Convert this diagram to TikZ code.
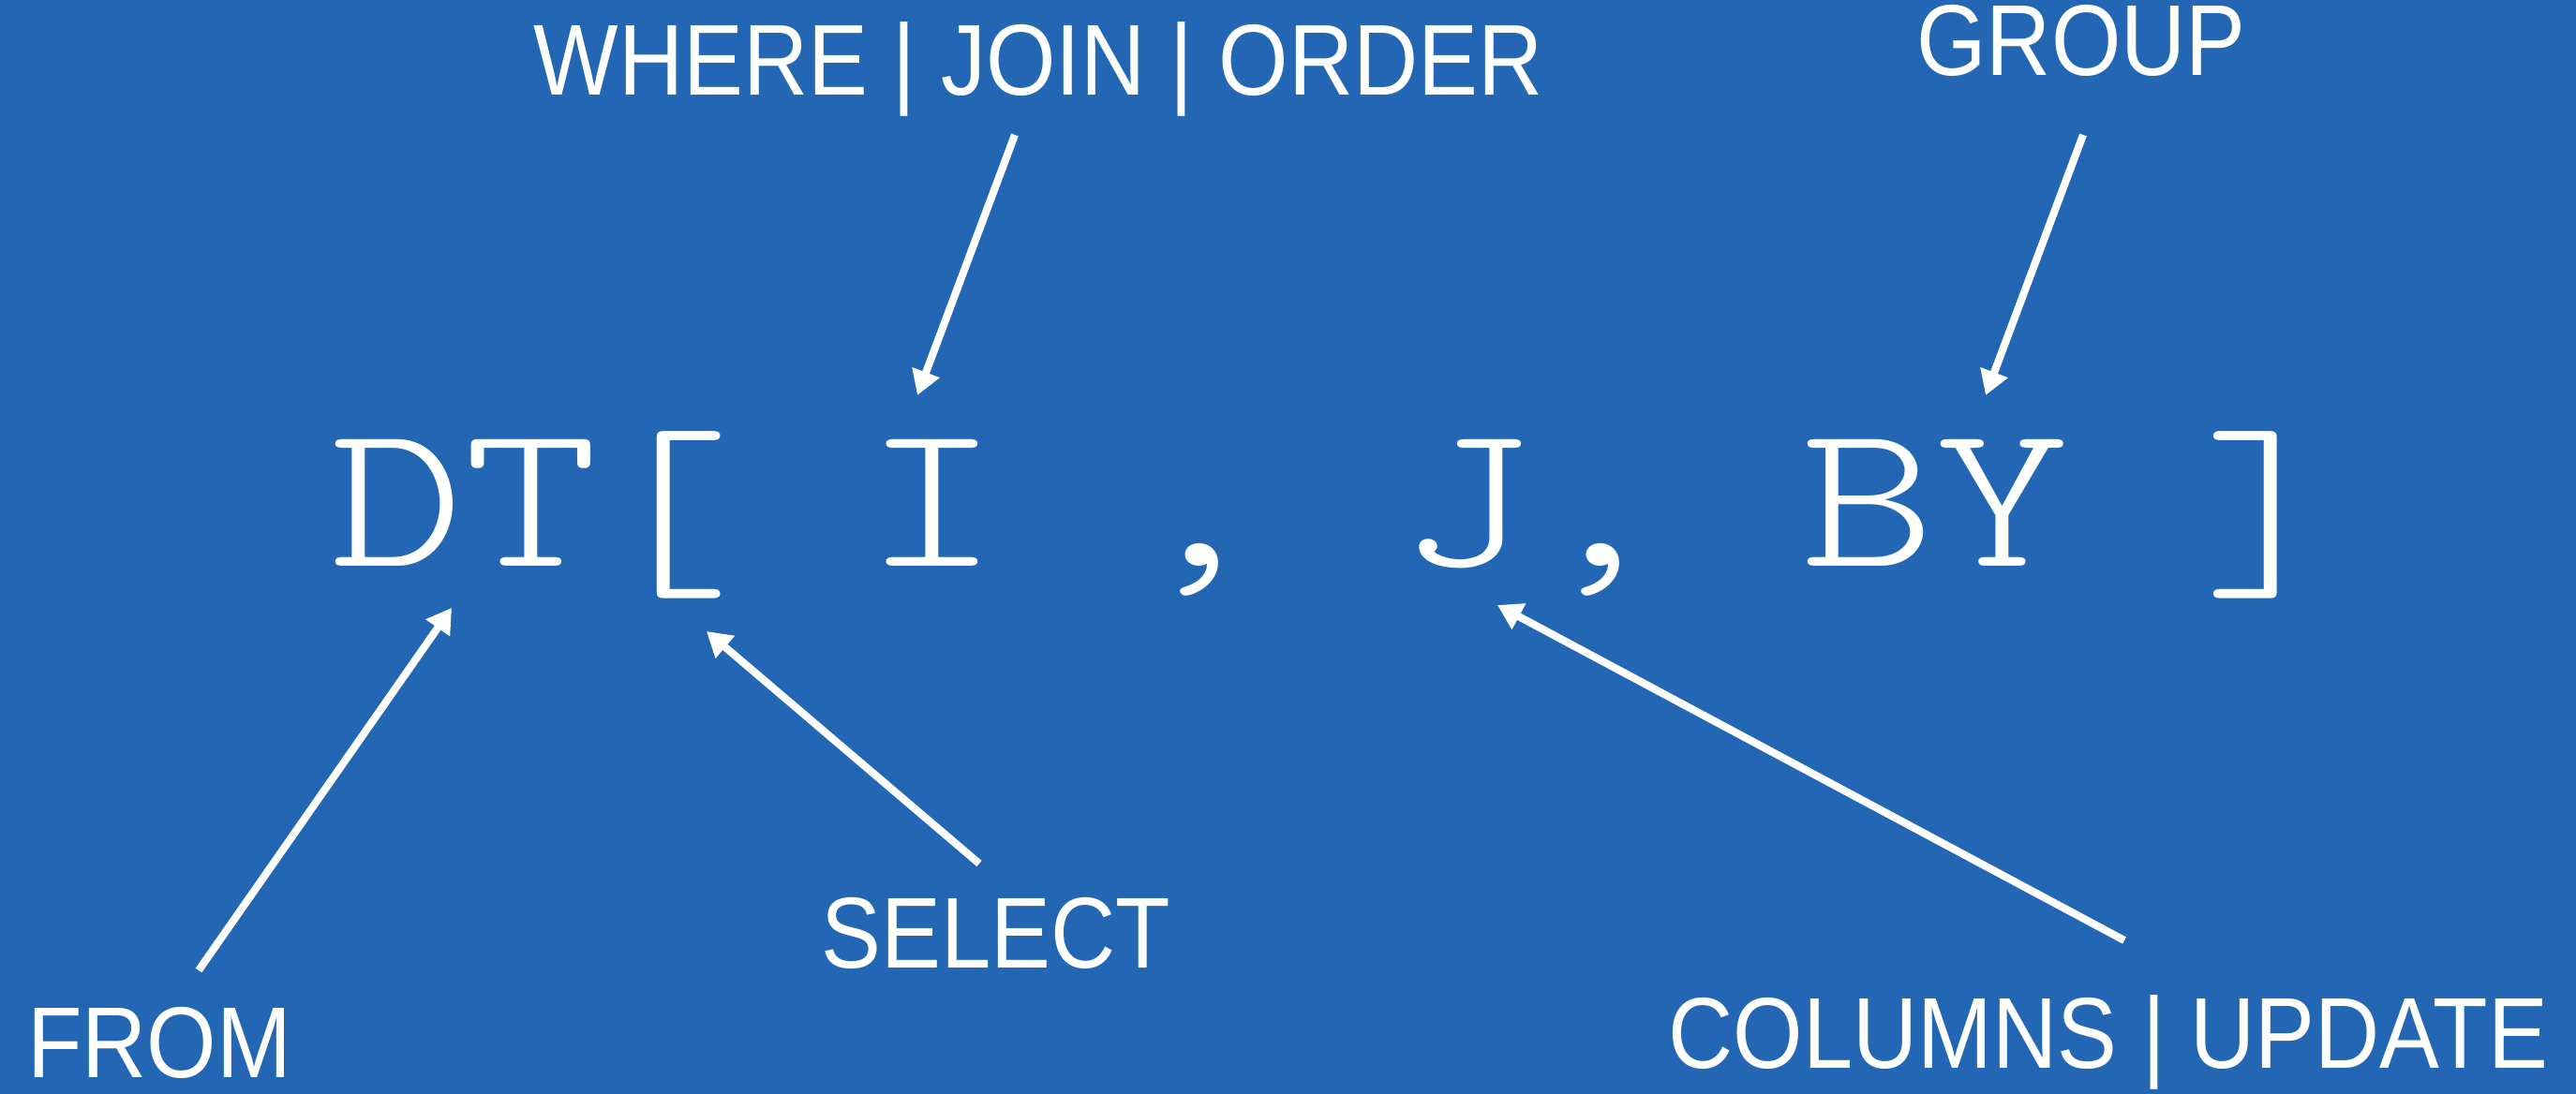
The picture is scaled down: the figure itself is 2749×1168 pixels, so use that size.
\documentclass[tikz,border=0pt]{standalone}
\usepackage{graphicx}
\usepackage{fontspec}
\setmainfont{Liberation Sans}
\newfontfamily\codefont{Latin Modern Mono Light}
\usetikzlibrary{arrows.meta}
\definecolor{bgblue}{RGB}{34,102,180}
\newcommand{\codebr}[1]{\raisebox{-0.067em}{\scalebox{1}[1.03]{#1}}}
\tikzset{
  lbl/.style={text=white, inner sep=0pt, anchor=base, font=\fontsize{30.6pt}{36pt}\selectfont},
  code/.style={text=white, inner sep=0pt, anchor=base west, font=\codefont\fontsize{77.3pt}{90pt}\selectfont},
  pointer/.style={draw=white, line width=2.3pt, -{Triangle[length=7.4pt,width=8.5pt]}}
}
\begin{document}
\begin{tikzpicture}[x=0.01cm,y=-0.01cm]
\fill[bgblue] (0,0) rectangle (2749,1168);
\useasboundingbox (0,0) rectangle (2749,1168);
\node[code] (expr) at (352,605) {\scalebox{1}[0.814]{DT\codebr{[} I , J, BY \codebr{]}}};
\node[lbl] (where) at (1108,102) {\scalebox{0.89}[1]{WHERE | JOIN | ORDER}};
\node[lbl] (group) at (2221,81) {\scalebox{0.89}[1]{GROUP}};
\node[lbl] (from) at (170,1150) {\scalebox{0.89}[1]{FROM}};
\node[lbl] (select) at (1063,1034) {\scalebox{0.89}[1]{SELECT}};
\node[lbl] (cols) at (2250,1140) {\scalebox{0.89}[1]{COLUMNS | UPDATE}};
\coordinate (whereS) at (1083,144);
\coordinate (whereT) at (979,422);
\coordinate (groupS) at (2223,144);
\coordinate (groupT) at (2119,422);
\coordinate (fromS) at (212,1036);
\coordinate (fromT) at (482,649);
\coordinate (selS) at (1045,922);
\coordinate (selT) at (754,674);
\coordinate (colS) at (2267,1004);
\coordinate (colT) at (1598,646);
\draw[pointer] (whereS) -- (whereT);
\draw[pointer] (groupS) -- (groupT);
\draw[pointer] (fromS) -- (fromT);
\draw[pointer] (selS) -- (selT);
\draw[pointer] (colS) -- (colT);
\end{tikzpicture}
\end{document}
